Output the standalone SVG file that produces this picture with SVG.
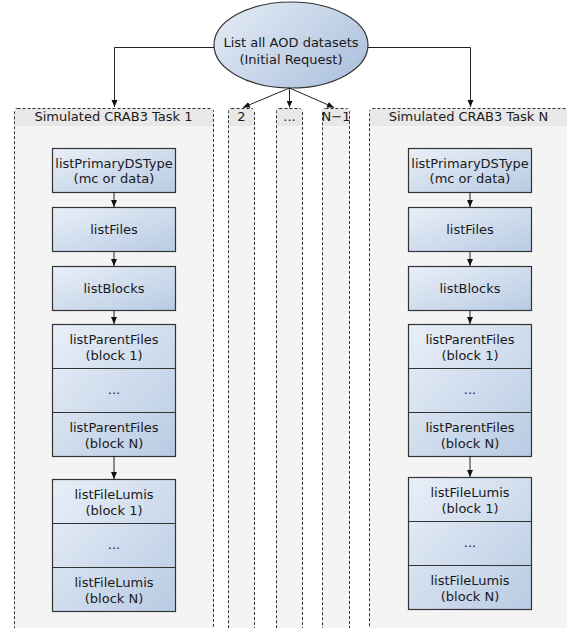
<svg xmlns="http://www.w3.org/2000/svg" width="567" height="628" viewBox="0 0 567 628">
<defs>
<linearGradient id="boxg" x1="0" y1="0" x2="1" y2="1">
<stop offset="0" stop-color="#e9eff8"/>
<stop offset="1" stop-color="#b8cbe3"/>
</linearGradient>
<linearGradient id="ellg" x1="0" y1="0" x2="1" y2="0.6">
<stop offset="0" stop-color="#e6edf6"/>
<stop offset="1" stop-color="#b1c5e0"/>
</linearGradient>
<marker id="arr" markerUnits="userSpaceOnUse" markerWidth="8" markerHeight="8" refX="7" refY="3" orient="auto">
<path d="M0,0 L7,3 L0,6 z" fill="#111"/>
</marker>
<style>
text{font-family:"DejaVu Sans","Liberation Sans",sans-serif;font-size:13px;fill:#1a1a1a;text-anchor:middle}
.cont{fill:#f4f4f4;stroke:#333;stroke-width:1;stroke-dasharray:3,2}
.hdr{fill:#e8e8e8}
.box{fill:url(#boxg);stroke:#333;stroke-width:1.2}
.div{stroke:#333;stroke-width:1.2}
.conn{fill:none;stroke:#222;stroke-width:1;marker-end:url(#arr)}
</style>
</defs>
<rect width="567" height="628" fill="#fff"/>

<g id="task1">
<rect class="cont" x="14.5" y="108.5" width="199" height="540" rx="3"/>
<rect class="hdr" x="15" y="109" width="198" height="17"/>
<text x="113.5" y="121">Simulated CRAB3 Task 1</text>
</g>
<g id="task2">
<rect class="cont" x="228.5" y="108.5" width="26" height="540" rx="3"/>
<rect class="hdr" x="229" y="109" width="25" height="17"/>
<text x="241.5" y="121">2</text>
</g>
<g id="taskdots">
<rect class="cont" x="276.5" y="108.5" width="26" height="540" rx="3"/>
<rect class="hdr" x="277" y="109" width="25" height="17"/>
<text x="289.5" y="121">...</text>
</g>
<g id="taskN1">
<rect class="cont" x="322.5" y="108.5" width="27" height="540" rx="3"/>
<rect class="hdr" x="323" y="109" width="26" height="17"/>
<text x="336" y="121">N−1</text>
</g>
<g id="taskN">
<rect class="cont" x="369.5" y="108.5" width="210" height="540" rx="3"/>
<rect class="hdr" x="370" y="109" width="209" height="17"/>
<text x="468.5" y="121">Simulated CRAB3 Task N</text>
</g>

<g id="request">
<ellipse cx="291" cy="45" rx="77" ry="43" fill="url(#ellg)" stroke="#333" stroke-width="1.2"/>
<text x="291" y="47">List all AOD datasets</text>
<text x="291" y="64">(Initial Request)</text>
</g>

<g id="t1-primary">
<rect class="box" x="52.5" y="148.5" width="123" height="44"/>
<text x="114" y="168">listPrimaryDSType</text>
<text x="114" y="183">(mc or data)</text>
</g>
<g id="t1-files">
<rect class="box" x="52.5" y="207.5" width="123" height="44"/>
<text x="114" y="234">listFiles</text>
</g>
<g id="t1-blocks">
<rect class="box" x="52.5" y="266.5" width="123" height="44"/>
<text x="114" y="293">listBlocks</text>
</g>
<g id="t1-parents">
<rect class="box" x="52.5" y="324.5" width="123" height="132"/>
<line class="div" x1="52.5" y1="368.5" x2="175.5" y2="368.5"/>
<line class="div" x1="52.5" y1="412.5" x2="175.5" y2="412.5"/>
<text x="114" y="344">listParentFiles</text>
<text x="114" y="360">(block 1)</text>
<text x="114" y="394">...</text>
<text x="114" y="432">listParentFiles</text>
<text x="114" y="448">(block N)</text>
</g>
<g id="t1-lumis">
<rect class="box" x="52.5" y="479.5" width="123" height="132"/>
<line class="div" x1="52.5" y1="523.5" x2="175.5" y2="523.5"/>
<line class="div" x1="52.5" y1="567.5" x2="175.5" y2="567.5"/>
<text x="114" y="499">listFileLumis</text>
<text x="114" y="515">(block 1)</text>
<text x="114" y="549">...</text>
<text x="114" y="587">listFileLumis</text>
<text x="114" y="603">(block N)</text>
</g>

<g id="tN-primary">
<rect class="box" x="408.5" y="148.5" width="123" height="44"/>
<text x="470" y="168">listPrimaryDSType</text>
<text x="470" y="183">(mc or data)</text>
</g>
<g id="tN-files">
<rect class="box" x="408.5" y="207.5" width="123" height="44"/>
<text x="470" y="234">listFiles</text>
</g>
<g id="tN-blocks">
<rect class="box" x="408.5" y="266.5" width="123" height="44"/>
<text x="470" y="293">listBlocks</text>
</g>
<g id="tN-parents">
<rect class="box" x="408.5" y="324.5" width="123" height="132"/>
<line class="div" x1="408.5" y1="368.5" x2="531.5" y2="368.5"/>
<line class="div" x1="408.5" y1="412.5" x2="531.5" y2="412.5"/>
<text x="470" y="344">listParentFiles</text>
<text x="470" y="360">(block 1)</text>
<text x="470" y="394">...</text>
<text x="470" y="432">listParentFiles</text>
<text x="470" y="448">(block N)</text>
</g>
<g id="tN-lumis">
<rect class="box" x="408.5" y="477.5" width="123" height="132"/>
<line class="div" x1="408.5" y1="521.5" x2="531.5" y2="521.5"/>
<line class="div" x1="408.5" y1="565.5" x2="531.5" y2="565.5"/>
<text x="470" y="497">listFileLumis</text>
<text x="470" y="513">(block 1)</text>
<text x="470" y="547">...</text>
<text x="470" y="585">listFileLumis</text>
<text x="470" y="601">(block N)</text>
</g>

<g id="connectors">
<path class="conn" d="M214,47.5 H114.5 V107"/>
<path class="conn" d="M368,47.5 H470.5 V107"/>
<path class="conn" d="M289.5,88 L243,107.5"/>
<path class="conn" d="M289.5,88 V107.5"/>
<path class="conn" d="M289.5,88 L334,107.5"/>
<path class="conn" d="M114,192.5 V207"/>
<path class="conn" d="M114,251.5 V266"/>
<path class="conn" d="M114,310.5 V324"/>
<path class="conn" d="M114,456.5 V479"/>
<path class="conn" d="M470,192.5 V207"/>
<path class="conn" d="M470,251.5 V266"/>
<path class="conn" d="M470,310.5 V324"/>
<path class="conn" d="M470,456.5 V477"/>
</g>
</svg>
